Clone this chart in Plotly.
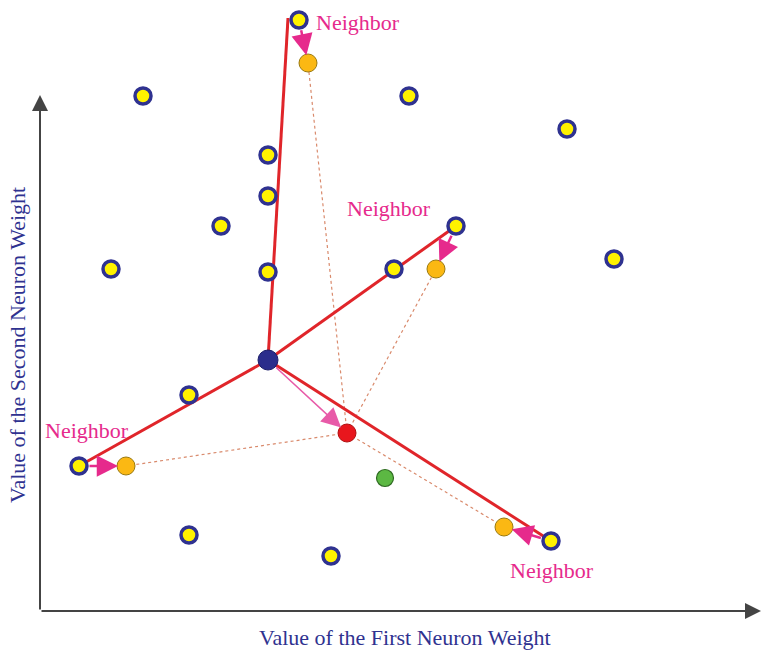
import plotly.graph_objects as go

# neuron weights (first weight, second weight)
neuron_x = [25.9, 10.3, 36.9, 52.7, 22.8, 22.8, 18.1, 41.6, 7.1, 22.8, 35.4, 57.4, 14.9, 3.9, 14.9, 29.1, 51.1]
neuron_y = [59.1, 51.5, 51.5, 48.2, 45.6, 41.5, 38.5, 38.5, 34.2, 33.9, 34.2, 35.2, 21.6, 14.5, 7.6, 5.5, 7.0]

# neighbours of the winner (index into neuron lists) and their updated weights
neighbor_idx = [0, 7, 13, 16]
updated_x = [26.8, 39.6, 8.6, 46.4]
updated_y = [54.8, 34.2, 14.5, 8.4]

# winning neuron, its updated position, and the input vector
bmu_x, bmu_y = 22.8, 25.1
moved_x, moved_y = 30.7, 17.8
input_x, input_y = 34.5, 13.3

# end of the red link toward the top neighbour
top_link_x, top_link_y = 24.8, 59.3

NAVY = "#2f3290"
PINK = "#e62a8c"
RED = "#e0252a"
SERIF = "Liberation Serif"

fig = go.Figure()

# dotted links from the moved winner to the updated neighbours
for ux, uy in zip(updated_x, updated_y):
    fig.add_trace(go.Scatter(
        x=[moved_x, ux], y=[moved_y, uy], mode="lines",
        line=dict(color="#d98a6c", width=1.2, dash="dot"),
        hoverinfo="skip", showlegend=False,
    ))

# red links from the winner to its neighbours
for k, i in enumerate(neighbor_idx):
    ex, ey = neuron_x[i], neuron_y[i]
    if k == 0:
        ex, ey = top_link_x, top_link_y
    fig.add_trace(go.Scatter(
        x=[bmu_x, ex], y=[bmu_y, ey], mode="lines",
        line=dict(color=RED, width=3),
        hoverinfo="skip", showlegend=False,
    ))

fig.add_trace(go.Scatter(
    x=neuron_x, y=neuron_y, mode="markers",
    marker=dict(size=16, color="#fff200", line=dict(color=NAVY, width=3.5)),
    showlegend=False,
))
fig.add_trace(go.Scatter(
    x=updated_x, y=updated_y, mode="markers",
    marker=dict(size=18, color="#fbb813", line=dict(color="#9a7a10", width=1)),
    showlegend=False,
))
fig.add_trace(go.Scatter(
    x=[bmu_x], y=[bmu_y], mode="markers",
    marker=dict(size=20, color="#2b2d8c", line=dict(color="#1c1e6a", width=1)),
    showlegend=False,
))
fig.add_trace(go.Scatter(
    x=[moved_x], y=[moved_y], mode="markers",
    marker=dict(size=18, color="#e8161d", line=dict(color="#b01010", width=1)),
    showlegend=False,
))
fig.add_trace(go.Scatter(
    x=[input_x], y=[input_y], mode="markers",
    marker=dict(size=17, color="#5cb843", line=dict(color="#2f6a22", width=1.2)),
    showlegend=False,
))

annotations = []

# pink arrows: neighbour -> updated weight
for k, i in enumerate(neighbor_idx):
    annotations.append(dict(
        x=updated_x[k], y=updated_y[k], ax=neuron_x[i], ay=neuron_y[i],
        xref="x", yref="y", axref="x", ayref="y", text="",
        showarrow=True, arrowhead=2, arrowsize=1.7, arrowwidth=2.5,
        arrowcolor=PINK, standoff=8, startstandoff=9,
    ))
# winner -> moved winner
annotations.append(dict(
    x=moved_x, y=moved_y, ax=bmu_x, ay=bmu_y,
    xref="x", yref="y", axref="x", ayref="y", text="",
    showarrow=True, arrowhead=2, arrowsize=2.6, arrowwidth=1.5,
    arrowcolor="#e85aa8", standoff=8, startstandoff=9,
))

# axes with arrowheads
annotations.append(dict(
    x=0, y=51.6, ax=0, ay=0, xref="x", yref="y", axref="x", ayref="y",
    text="", showarrow=True, arrowhead=2, arrowsize=1.6, arrowwidth=2, arrowcolor="#444444",
))
annotations.append(dict(
    x=72.1, y=0, ax=0, ay=0, xref="x", yref="y", axref="x", ayref="y",
    text="", showarrow=True, arrowhead=2, arrowsize=1.6, arrowwidth=2, arrowcolor="#444444",
))

# "Neighbor" labels
for lx, ly in [(31.8, 58.9), (34.9, 40.3), (4.7, 18.1), (51.2, 4.1)]:
    annotations.append(dict(
        x=lx, y=ly, xref="x", yref="y", text="Neighbor", showarrow=False,
        font=dict(family=SERIF, size=22, color=PINK),
    ))

annotations.append(dict(
    x=36.5, y=-2.6, xref="x", yref="y", text="Value of the First Neuron Weight",
    showarrow=False, font=dict(family=SERIF, size=22, color=NAVY),
))
annotations.append(dict(
    x=-2.3, y=26.6, xref="x", yref="y", text="Value of the Second Neuron Weight",
    showarrow=False, textangle=-90, font=dict(family=SERIF, size=22, color=NAVY),
))

fig.update_layout(
    width=762,
    height=650,
    margin=dict(l=0, r=0, t=0, b=0),
    plot_bgcolor="white",
    paper_bgcolor="white",
    xaxis=dict(range=[-4.0, 72.2], visible=False, fixedrange=True),
    yaxis=dict(range=[-3.9, 61.1], visible=False, fixedrange=True),
    annotations=annotations,
    showlegend=False,
)

fig.write_html(
    "out.html",
    config=dict(displayModeBar=False),
    post_script="document.body.style.margin='0';",
)
